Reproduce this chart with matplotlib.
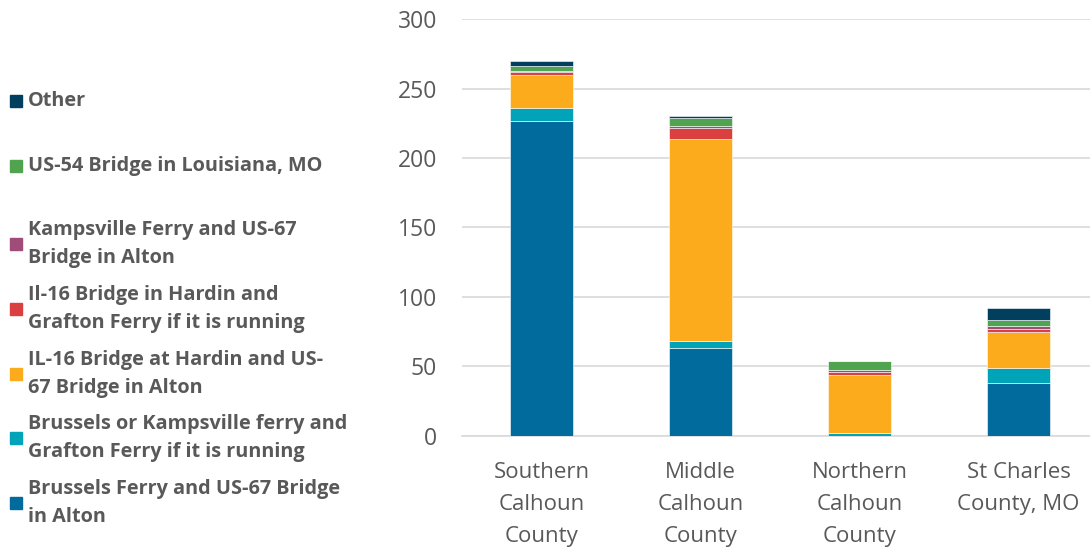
import numpy as np
import matplotlib.pyplot as plt
from matplotlib.patches import Rectangle

plt.rcParams['font.family'] = ['Open Sans', 'DejaVu Sans']

# Counties along the x axis
counties = ["Southern\nCalhoun\nCounty", "Middle\nCalhoun\nCounty",
            "Northern\nCalhoun\nCounty", "St Charles\nCounty, MO"]

# Route choices, stacked bottom to top
routes = ["Brussels Ferry and US-67 Bridge\nin Alton",
          "Brussels or Kampsville ferry and\nGrafton Ferry if it is running",
          "IL-16 Bridge at Hardin and US-\n67 Bridge in Alton",
          "Il-16 Bridge in Hardin and\nGrafton Ferry if it is running",
          "Kampsville Ferry and US-67\nBridge in Alton",
          "US-54 Bridge in Louisiana, MO",
          "Other"]

brussels_alton = [227, 63, 0, 38]
brussels_grafton = [9, 5, 2, 11]
hardin_alton = [24, 146, 42, 26]
hardin_grafton = [2, 8, 1.5, 2]
kampsville_alton = [1, 1, 1.5, 2]
us54_louisiana = [3, 6, 7, 4]
other = [4, 1, 0, 9]

colors = ["#006b9c", "#00a3b8", "#fbab1b", "#db4040",
          "#a04c78", "#50a450", "#003f5e"]

series = [brussels_alton, brussels_grafton, hardin_alton, hardin_grafton,
          kampsville_alton, us54_louisiana, other]

fig = plt.figure(figsize=(10.9, 5.5), dpi=100)
ax = fig.add_axes([0.424, 0.208, 0.576, 0.757])

x = np.arange(len(counties))
bottom = np.zeros(len(counties))
for vals, col in zip(series, colors):
    vals = np.array(vals, dtype=float)
    ax.bar(x, vals, 0.4, bottom=bottom, color=col, edgecolor="white",
           linewidth=0.4, zorder=3)
    bottom += vals

ax.set_ylim(0, 300)
ax.set_yticks(range(0, 301, 50))
ax.set_xlim(-0.5, 3.45)
ax.set_xticks(x)
ax.set_xticklabels(counties, fontsize=16, color="#595959", linespacing=1.68)
ax.tick_params(axis="y", labelsize=16.5, labelcolor="#595959", length=0, pad=18)
ax.tick_params(axis="x", length=0, pad=19)
ax.grid(axis="y", color="#d9d9d9", linewidth=1.2, zorder=0)
for side in ["top", "right", "left"]:
    ax.spines[side].set_visible(False)
ax.spines["bottom"].set_color("#d9d9d9")
ax.spines["bottom"].set_linewidth(1.2)

# Legend drawn by hand on the left, top entry is the last series
W, H = 1090, 550
ys = [101, 166, 244, 309, 374, 438, 503]
for label, col, yc in zip(routes[::-1], colors[::-1], ys):
    fig.patches.append(Rectangle((10 / W, 1 - (yc + 6) / H), 12 / W, 12 / H,
                                 transform=fig.transFigure, color=col))
    fig.text(28 / W, 1 - yc / H, label, fontsize=14.3, fontweight="bold",
             color="#595959", va="center", ha="left", linespacing=1.47)

fig.savefig("out.png", dpi=100)
